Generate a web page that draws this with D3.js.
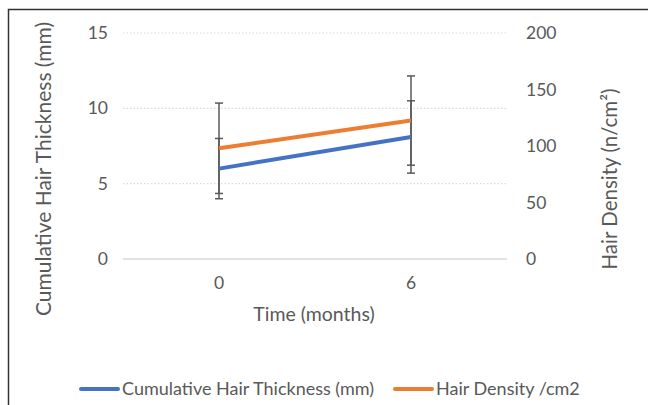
<!DOCTYPE html>
<html>
<head>
<meta charset="utf-8">
<script src="https://cdn.jsdelivr.net/npm/d3@7/dist/d3.min.js"></script>
<style>
  html, body { margin: 0; padding: 0; background: #fff; }
  svg { display: block; font-family: Lato, "Open Sans", sans-serif; }
</style>
</head>
<body>
<svg id="chart" width="648" height="405"></svg>
<script>
// Time points (months)
const months = ["0", "6"];

// Cumulative hair thickness (mm), mean and error
const thickness = [6.0, 8.1];
const thicknessErr = [2.0, 2.4];

// Hair density (n/cm²), mean and error
const density = [98, 122.5];
const densityErr = [40, 39.5];

// Axis ticks
const leftTicks = [0, 5, 10, 15];
const rightTicks = [0, 50, 100, 150, 200];

const svg = d3.select("#chart");
const textColor = "#595959";
const gridColor = "#d9d9d9";

// Chart frame
svg.append("rect").attr("x", 8.5).attr("y", 9.5).attr("width", 700).attr("height", 500)
  .attr("fill", "#fff").attr("stroke", "#333").attr("stroke-width", 1.5);

const plot = { left: 123, right: 507, top: 33, bottom: 259 };

const x = d3.scaleBand().domain(months).range([plot.left, plot.right]);
const yL = d3.scaleLinear().domain([0, 15]).range([plot.bottom, plot.top]);
const yR = d3.scaleLinear().domain([0, 200]).range([plot.bottom, plot.top]);
const cx = d => x(d) + x.bandwidth() / 2;

// Gridlines from the left axis
const grid = svg.append("g");
grid.selectAll("line").data(leftTicks).join("line")
  .attr("x1", plot.left).attr("x2", plot.right)
  .attr("y1", d => yL(d)).attr("y2", d => yL(d))
  .attr("stroke", gridColor)
  .attr("stroke-width", d => d === 0 ? 1.5 : 1.2)
  .attr("stroke-dasharray", d => d === 0 ? null : "1.5,2");

// Left axis labels
const leftAxis = svg.append("g").attr("transform", `translate(${plot.left - 15},0)`)
  .call(d3.axisLeft(yL).tickValues(leftTicks).tickSize(0).tickPadding(0));
leftAxis.select(".domain").remove();
leftAxis.selectAll("text").attr("font-size", 17.5).attr("fill", textColor)
  .attr("font-family", "Lato, sans-serif").attr("text-anchor", "end");

// Right axis labels
const rightAxis = svg.append("g").attr("transform", `translate(${plot.right + 19},0)`)
  .call(d3.axisRight(yR).tickValues(rightTicks).tickSize(0).tickPadding(0));
rightAxis.select(".domain").remove();
rightAxis.selectAll("text").attr("font-size", 17.5).attr("fill", textColor)
  .attr("font-family", "Lato, sans-serif");

// Category axis labels
const bottomAxis = svg.append("g").attr("transform", `translate(0,${plot.bottom + 18})`)
  .call(d3.axisBottom(x).tickSize(0).tickPadding(0));
bottomAxis.select(".domain").remove();
bottomAxis.selectAll("text").attr("font-size", 17.5).attr("fill", textColor)
  .attr("font-family", "Lato, sans-serif");

// Axis titles
svg.append("text").attr("transform", "translate(51,169) rotate(-90)")
  .attr("text-anchor", "middle").attr("font-size", 21).attr("fill", textColor)
  .text("Cumulative Hair Thickness (mm)");
svg.append("text").attr("transform", "translate(617,179) rotate(-90)")
  .attr("text-anchor", "middle").attr("font-size", 20.5).attr("fill", textColor)
  .text("Hair Density (n/cm²)");
svg.append("text").attr("x", 314).attr("y", 321)
  .attr("text-anchor", "middle").attr("font-size", 19.5).attr("fill", textColor)
  .text("Time (months)");

// Error bars
function errorBars(vals, errs, scale) {
  const g = svg.append("g").attr("stroke", "#595959").attr("stroke-width", 1.5);
  months.forEach((m, i) => {
    const px = cx(m), lo = scale(vals[i] - errs[i]), hi = scale(vals[i] + errs[i]);
    g.append("line").attr("x1", px).attr("x2", px).attr("y1", lo).attr("y2", hi);
    [lo, hi].forEach(py => g.append("line")
      .attr("x1", px - 4).attr("x2", px + 4).attr("y1", py).attr("y2", py));
  });
}
errorBars(thickness, thicknessErr, yL);
errorBars(density, densityErr, yR);

// Series lines
const lineL = d3.line().x((d, i) => cx(months[i])).y(d => yL(d));
const lineR = d3.line().x((d, i) => cx(months[i])).y(d => yR(d));
svg.append("path").datum(thickness).attr("d", lineL)
  .attr("fill", "none").attr("stroke", "#4472c4").attr("stroke-width", 4);
svg.append("path").datum(density).attr("d", lineR)
  .attr("fill", "none").attr("stroke", "#ed7d31").attr("stroke-width", 4);

// Legend
const legend = [
  { name: "Cumulative Hair Thickness (mm)", color: "#4472c4", x: 81 },
  { name: "Hair Density /cm2", color: "#ed7d31", x: 395 }
];
legend.forEach(l => {
  svg.append("line").attr("x1", l.x).attr("x2", l.x + 37).attr("y1", 389).attr("y2", 389)
    .attr("stroke", l.color).attr("stroke-width", 4).attr("stroke-linecap", "round");
  svg.append("text").attr("x", l.x + 41).attr("y", 395)
    .attr("font-size", 18).attr("fill", textColor).text(l.name);
});
</script>
</body>
</html>
